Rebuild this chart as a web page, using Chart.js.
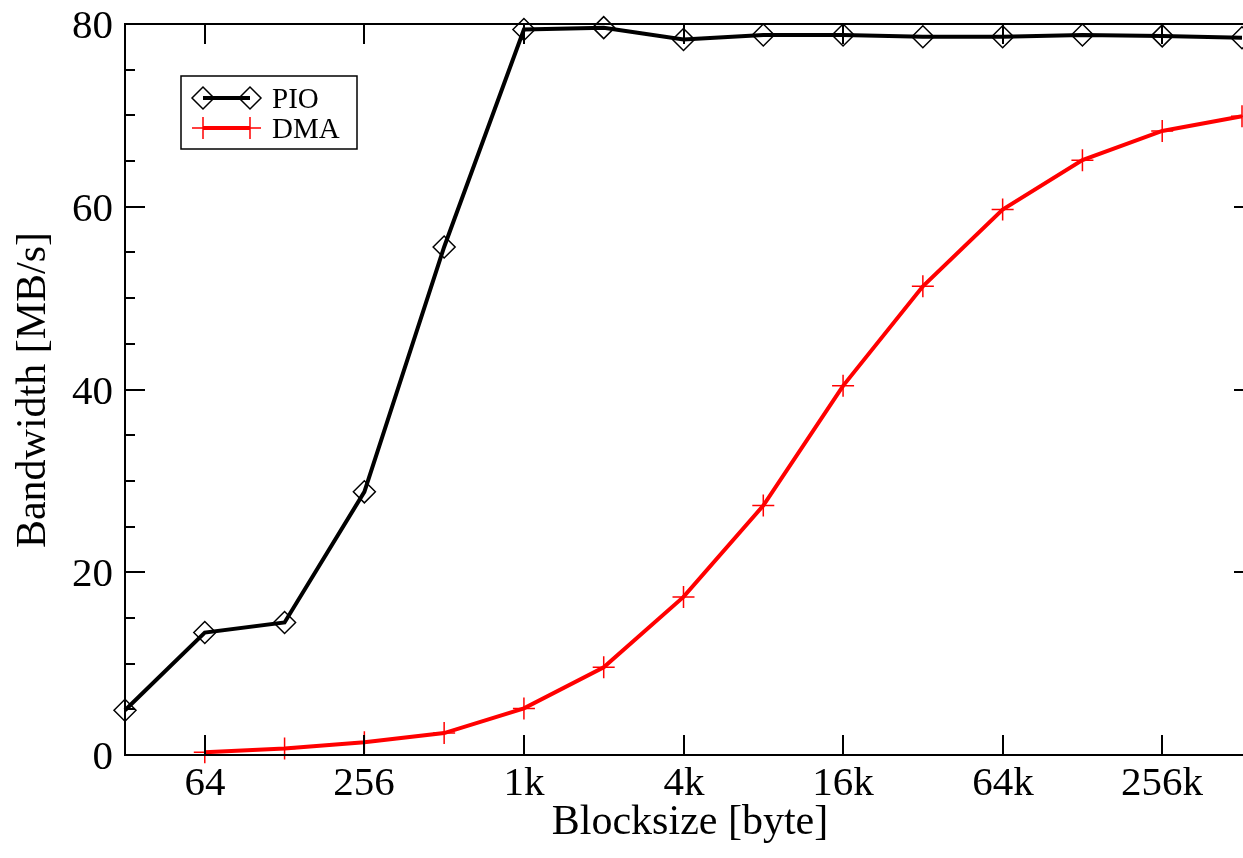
<!DOCTYPE html>
<html>
<head>
<meta charset="utf-8">
<script src="https://cdn.jsdelivr.net/npm/chart.js@4.4.1/dist/chart.umd.min.js"></script>
<style>
html,body{margin:0;padding:0;background:#fff;}
#wrap{width:1243px;height:858px;}
</style>
</head>
<body>
<div id="wrap"><canvas id="c" width="1243" height="858"></canvas></div>
<script>
// Block sizes in bytes (x categories)
const blockSizes = [32, 64, 128, 256, 512, 1024, 2048, 4096, 8192, 16384, 32768, 65536, 131072, 262144, 524288];
// Bandwidth in MB/s
const pioValues = [4.9, 13.4, 14.5, 28.8, 55.6, 79.4, 79.6, 78.3, 78.8, 78.8, 78.6, 78.6, 78.8, 78.7, 78.5];
const dmaValues = [null, 0.3, 0.7, 1.4, 2.4, 5.1, 9.6, 17.3, 27.3, 40.4, 51.3, 59.7, 65.1, 68.3, 69.9];
// x tick labels (every second block size)
const xTickSizes = [64, 256, 1024, 4096, 16384, 65536, 262144];
const xTickLabels = ['64', '256', '1k', '4k', '16k', '64k', '256k'];
const yTicks = [0, 20, 40, 60, 80];
const yTickLabels = ['0', '20', '40', '60', '80'];
const xTitle = 'Blocksize [byte]';
const yTitle = 'Bandwidth [MB/s]';
const seriesNames = ['PIO', 'DMA'];

const FONT = "'Liberation Serif', 'DejaVu Serif', serif";

function toPoints(vals) {
  return blockSizes.map((s, i) => ({ x: Math.log2(s), y: vals[i] })).filter(p => p.y !== null);
}

const framePlugin = {
  id: 'frame',
  afterDatasetsDraw(chart) {
    const ctx = chart.ctx;
    const xs = chart.scales.x, ys = chart.scales.y;
    const L = chart.chartArea.left, R = chart.chartArea.right, T = chart.chartArea.top, B = chart.chartArea.bottom;
    ctx.save();
    ctx.strokeStyle = '#000';
    ctx.lineWidth = 2;
    // frame (left, bottom, top)
    ctx.beginPath();
    ctx.moveTo(R + 3, T); ctx.lineTo(L, T); ctx.lineTo(L, B); ctx.lineTo(R + 3, B);
    ctx.stroke();
    // x ticks, bottom and top, inward
    ctx.fillStyle = '#000';
    ctx.font = '41px ' + FONT;
    ctx.textAlign = 'center';
    ctx.textBaseline = 'alphabetic';
    xTickSizes.forEach((s, i) => {
      const px = Math.round(xs.getPixelForValue(Math.log2(s)));
      ctx.beginPath();
      ctx.moveTo(px, B); ctx.lineTo(px, B - 20);
      ctx.moveTo(px, T); ctx.lineTo(px, T + 20);
      ctx.stroke();
      ctx.fillText(xTickLabels[i], px, 795);
    });
    // y ticks: major every 20 (20px), minor every 5 (10px) on left; major on right
    for (let v = 0; v <= 80; v += 5) {
      const py = Math.round(ys.getPixelForValue(v));
      const major = v % 20 === 0;
      ctx.beginPath();
      ctx.moveTo(L, py); ctx.lineTo(L + (major ? 20 : 10), py);
      if (major && v > 0 && v < 80) { ctx.moveTo(R + 3, py); ctx.lineTo(R - 8, py); }
      ctx.stroke();
    }
    ctx.textAlign = 'right';
    yTicks.forEach((v, i) => {
      const py = ys.getPixelForValue(v);
      ctx.fillText(yTickLabels[i], 113, py + 14);
    });
    // axis titles
    ctx.font = '42px ' + FONT;
    ctx.textAlign = 'center';
    ctx.fillText(xTitle, 690, 834);
    ctx.save();
    ctx.translate(45, 390);
    ctx.rotate(-Math.PI / 2);
    ctx.fillText(yTitle, 0, 0);
    ctx.restore();
    // legend
    const bx = 181, by = 76, bw = 176, bh = 73;
    ctx.lineWidth = 1.5;
    ctx.strokeRect(bx, by, bw, bh);
    const rows = [
      { label: seriesNames[0], color: '#000', style: 'diamond', y: 98 },
      { label: seriesNames[1], color: '#ff0000', style: 'cross', y: 128 }
    ];
    rows.forEach(r => {
      ctx.strokeStyle = r.color;
      ctx.lineWidth = 4;
      ctx.beginPath(); ctx.moveTo(203, r.y); ctx.lineTo(250, r.y); ctx.stroke();
      ctx.lineWidth = 1.5;
      [203, 250].forEach(cx => {
        ctx.beginPath();
        if (r.style === 'diamond') {
          ctx.moveTo(cx - 11, r.y); ctx.lineTo(cx, r.y - 11); ctx.lineTo(cx + 11, r.y); ctx.lineTo(cx, r.y + 11); ctx.closePath();
        } else {
          ctx.moveTo(cx - 11, r.y); ctx.lineTo(cx + 11, r.y); ctx.moveTo(cx, r.y - 11); ctx.lineTo(cx, r.y + 11);
        }
        ctx.stroke();
      });
      ctx.fillStyle = '#000';
      ctx.font = '29px ' + FONT;
      ctx.textAlign = 'left';
      ctx.textBaseline = 'alphabetic';
      ctx.fillText(r.label, 272, r.y + 10);
    });
    ctx.restore();
  }
};

new Chart(document.getElementById('c'), {
  type: 'scatter',
  data: {
    datasets: [
      {
        label: seriesNames[1],
        data: toPoints(dmaValues),
        showLine: true,
        borderColor: '#ff0000',
        backgroundColor: '#ff0000',
        borderWidth: 4,
        pointStyle: 'cross',
        pointRadius: 11,
        pointBorderWidth: 1.5,
        pointBorderColor: '#ff0000',
        tension: 0,
        clip: false
      },
      {
        label: seriesNames[0],
        data: toPoints(pioValues),
        showLine: true,
        borderColor: '#000',
        backgroundColor: 'rgba(0,0,0,0)',
        borderWidth: 4,
        pointStyle: 'rectRot',
        pointRadius: 11,
        pointBorderWidth: 1.5,
        pointBorderColor: '#000',
        tension: 0,
        clip: false
      }
    ]
  },
  options: {
    responsive: false,
    animation: false,
    devicePixelRatio: 1,
    layout: { autoPadding: false, padding: { top: 24, right: 1, left: 0, bottom: 0 } },
    plugins: { legend: { display: false }, tooltip: { enabled: false } },
    scales: {
      x: {
        type: 'linear',
        min: Math.log2(blockSizes[0]),
        max: Math.log2(blockSizes[blockSizes.length - 1]),
        afterBuildTicks(scale) { scale.ticks = xTickSizes.map(s => ({ value: Math.log2(s) })); },
        afterFit(scale) { scale.height = 103; },
        grid: { display: false, drawTicks: false },
        border: { display: false },
        ticks: { display: false }
      },
      y: {
        type: 'linear',
        min: 0,
        max: 80,
        afterBuildTicks(scale) { scale.ticks = yTicks.map(v => ({ value: v })); },
        afterFit(scale) { scale.width = 125; },
        grid: { display: false, drawTicks: false },
        border: { display: false },
        ticks: { display: false }
      }
    }
  },
  plugins: [framePlugin]
});
</script>
</body>
</html>
